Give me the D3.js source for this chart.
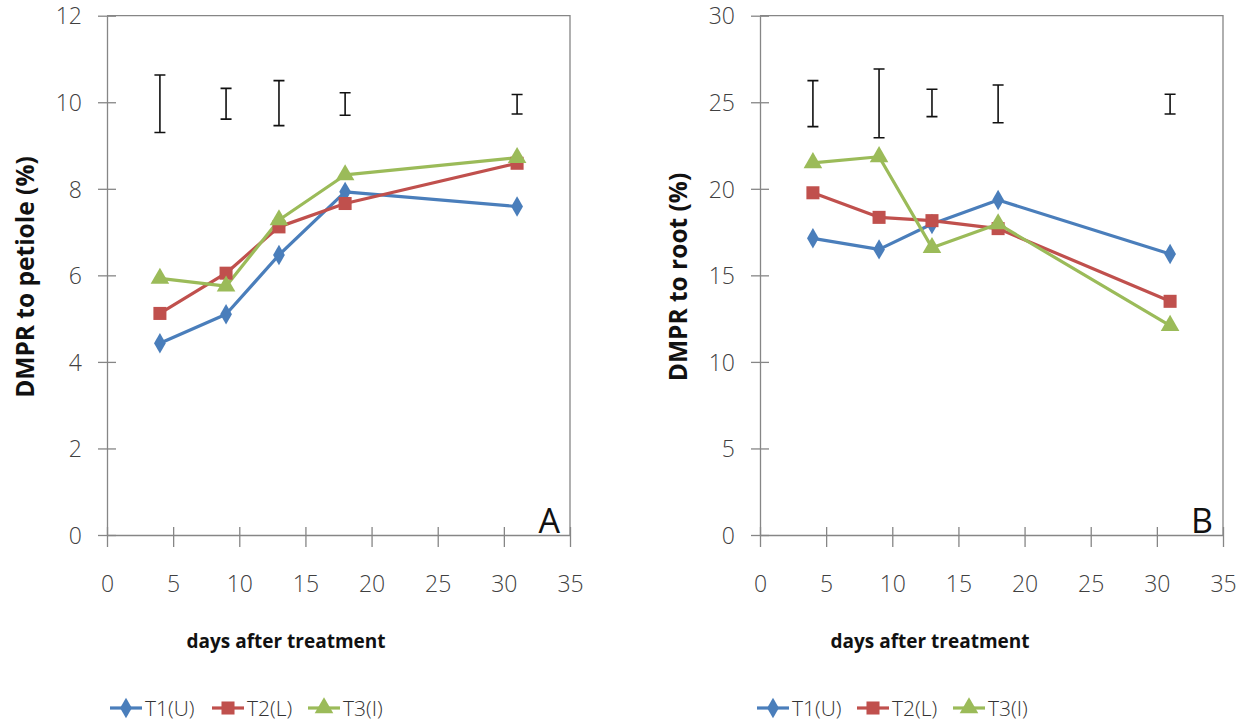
<!DOCTYPE html>
<html>
<head>
<meta charset="utf-8">
<script src="https://cdn.jsdelivr.net/npm/d3@7"></script>
<style>
  body { margin: 0; background: #fff; }
  svg { display: block; }
</style>
</head>
<body>
<div id="chart"></div>
<script>
// days sampled
const days = [4, 9, 13, 18, 31];
const seriesNames = ['T1(U)', 'T2(L)', 'T3(I)'];

// panel A: DMPR to petiole (%)
const petioleT1 = [4.43, 5.10, 6.47, 7.93, 7.59];
const petioleT2 = [5.12, 6.05, 7.12, 7.66, 8.59];
const petioleT3 = [5.93, 5.75, 7.28, 8.32, 8.72];
const petioleErrLow = [9.30, 9.61, 9.46, 9.70, 9.73];
const petioleErrHigh = [10.63, 10.32, 10.50, 10.22, 10.18];

// panel B: DMPR to root (%)
const rootT1 = [17.14, 16.50, 17.97, 19.35, 16.23];
const rootT2 = [19.77, 18.35, 18.16, 17.70, 13.50];
const rootT3 = [21.50, 21.85, 16.60, 17.97, 12.10];
const rootErrLow = [23.59, 22.95, 24.17, 23.82, 24.32];
const rootErrHigh = [26.25, 26.92, 25.75, 26.00, 25.46];

const xTicks = [0, 5, 10, 15, 20, 25, 30, 35];
const petioleTicks = [0, 2, 4, 6, 8, 10, 12];
const rootTicks = [0, 5, 10, 15, 20, 25, 30];

const colors = ['#4A7EBB', '#C0504D', '#9BBB59'];
const symbols = [d3.symbolDiamond, d3.symbolSquare, d3.symbolTriangle];
const symSizes = [120, 170, 150];

const W = 1247, H = 727;
const svg = d3.select('#chart').append('svg')
    .attr('width', W)
    .attr('height', H);

const axisColor = '#868686';
const tickFont = '"Open Sans", "Noto Sans", sans-serif';
const titleFont = '"Open Sans", "Noto Sans", sans-serif';

function drawPanel(p) {
    const g = svg.append('g');

    const x = d3.scaleLinear().domain([0, 35]).range([p.left, p.left + 463]);
    const y = d3.scaleLinear().domain([0, p.yMax]).range([535, 15.7]);

    // frame top + right
    g.append('path')
        .attr('d', `M${x(0)},${y(p.yMax)}H${x(35)}V${y(0)}`)
        .attr('fill', 'none')
        .attr('stroke', axisColor)
        .attr('stroke-width', 1.3);

    const xAxis = g.append('g')
        .attr('transform', `translate(0, ${y(0)})`)
        .call(d3.axisBottom(x).tickValues(xTicks).tickSize(12).tickSizeOuter(0).tickPadding(0));
    xAxis.selectAll('line').attr('y1', -8).attr('y2', 12);
    xAxis.selectAll('text').attr('y', 57).attr('dy', 0);

    const yAxis = g.append('g')
        .attr('transform', `translate(${x(0)}, 0)`)
        .call(d3.axisLeft(y).tickValues(p.yTicks).tickSize(9).tickSizeOuter(0).tickPadding(0));
    yAxis.selectAll('line').attr('x1', 9).attr('x2', -9);
    yAxis.selectAll('text').attr('x', -25).attr('dy', '0.36em');

    [xAxis, yAxis].forEach(a => {
        a.select('.domain').attr('stroke', axisColor).attr('stroke-width', 1.3);
        a.selectAll('line').attr('stroke', axisColor).attr('stroke-width', 1.3);
        a.selectAll('text')
            .attr('fill', '#404040')
            .style('font-family', tickFont)
            .style('font-size', '23px')
            .style('font-weight', 300);
    });

    // error bars
    const cap = 5.5;
    days.forEach((d, i) => {
        const cx = x(d), y1 = y(p.errLow[i]), y2 = y(p.errHigh[i]);
        g.append('path')
            .attr('d', `M${cx - cap},${y2}H${cx + cap}M${cx},${y2}V${y1}M${cx - cap},${y1}H${cx + cap}`)
            .attr('fill', 'none')
            .attr('stroke', '#111')
            .attr('stroke-width', 1.6);
    });

    const line = d3.line().x((d, i) => x(days[i])).y(d => y(d));

    p.series.forEach((vals, s) => {
        g.append('path')
            .datum(vals)
            .attr('d', line)
            .attr('fill', 'none')
            .attr('stroke', colors[s])
            .attr('stroke-width', 3.2)
            .attr('stroke-linejoin', 'round');
    });
    p.series.forEach((vals, s) => {
        g.selectAll(null)
            .data(vals)
            .enter()
            .append('path')
                .attr('d', d3.symbol(symbols[s], symSizes[s]))
                .attr('transform', (d, i) => `translate(${x(days[i])}, ${y(d)})`)
                .attr('fill', colors[s]);
    });

    // axis titles
    g.append('text')
        .attr('transform', `translate(${x(0) - 82}, 277) rotate(-90)`)
        .attr('text-anchor', 'middle')
        .attr('dy', '0.35em')
        .style('font-family', titleFont)
        .style('font-weight', 700)
        .style('font-size', '24.5px')
        .attr('fill', '#111')
        .text(p.yTitle);

    g.append('text')
        .attr('x', p.xTitleX)
        .attr('y', 648)
        .attr('text-anchor', 'middle')
        .style('font-family', titleFont)
        .style('font-weight', 700)
        .style('font-size', '19px')
        .attr('fill', '#111')
        .text('days after treatment');

    // panel letter
    g.append('text')
        .attr('x', x(35) - 10)
        .attr('y', 533)
        .attr('text-anchor', 'end')
        .style('font-family', tickFont)
        .style('font-size', '34px')
        .attr('fill', '#111')
        .text(p.letter);

    // legend
    p.legendX.forEach((lx, s) => {
        const lg = g.append('g').attr('transform', `translate(${lx}, 708)`);
        lg.append('line')
            .attr('x1', 0).attr('x2', 32)
            .attr('stroke', colors[s])
            .attr('stroke-width', 3.2);
        lg.append('path')
            .attr('d', d3.symbol(symbols[s], symSizes[s]))
            .attr('transform', 'translate(16, 0)')
            .attr('fill', colors[s]);
        lg.append('text')
            .attr('x', 35)
            .attr('dy', '0.36em')
            .style('font-family', tickFont)
            .style('font-size', '21px')
            .style('font-weight', 300)
            .attr('fill', '#333')
            .text(seriesNames[s]);
    });
}

drawPanel({
    left: 107,
    yMax: 12,
    yTicks: petioleTicks,
    series: [petioleT1, petioleT2, petioleT3],
    errLow: petioleErrLow,
    errHigh: petioleErrHigh,
    yTitle: 'DMPR to petiole (%)',
    xTitleX: 286,
    letter: 'A',
    legendX: [110, 212, 308]
});

drawPanel({
    left: 760,
    yMax: 30,
    yTicks: rootTicks,
    series: [rootT1, rootT2, rootT3],
    errLow: rootErrLow,
    errHigh: rootErrHigh,
    yTitle: 'DMPR to root  (%)',
    xTitleX: 930,
    letter: 'B',
    legendX: [757, 857, 953]
});
</script>
</body>
</html>
